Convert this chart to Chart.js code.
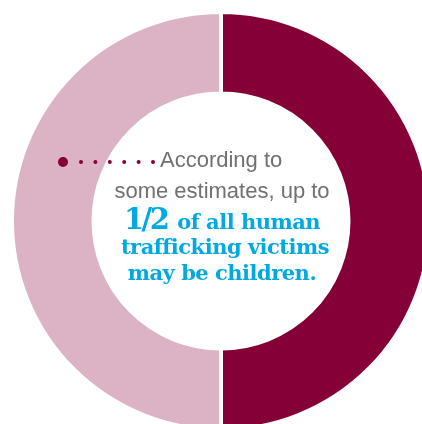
<!DOCTYPE html>
<html>
<head>
  <script src="https://cdn.jsdelivr.net/npm/chart.js"></script>
  <style>
    html, body { margin: 0; padding: 0; overflow: hidden; background: #fff; width: 422px; height: 424px; }
    #wrap { position: relative; width: 422px; height: 424px; overflow: hidden; }
    #donut { position: absolute; left: 0; top: 0; }
    .line { position: absolute; left: 72px; width: 300px; text-align: center; white-space: nowrap; }
    .gray { font-family: "Liberation Sans", Arial, sans-serif; font-size: 22px; line-height: 30px; color: #707072; }
    .blue { font-family: "DejaVu Serif", serif; font-weight: bold; font-size: 21px; line-height: 25px; color: #00a9e0; letter-spacing: -0.5px; }
    .big { font-size: 29px; letter-spacing: -2.5px; margin-right: 3px; }
  </style>
</head>
<body>
  <div id="wrap">
    <canvas id="donut" width="442" height="442"></canvas>
    <div class="line gray" style="top:145px; left:160px; width:auto; text-align:left;">According to</div>
    <div class="line gray" style="top:176px;">some estimates, up to</div>
    <div class="line blue" style="top:207px;"><span class="big">1/2</span> of all human</div>
    <div class="line blue" style="top:234px; left:75px;">trafficking victims</div>
    <div class="line blue" style="top:260px;">may be children.</div>
  </div>

  <script>
    const categories = ['Children', 'Adults'];
    const shares = [50, 50];
    const colors = ['#850036', '#dbb3c4'];

    // dotted pointer from the ring towards the text
    const pointerDots = {
      id: 'pointerDots',
      afterDraw(chart) {
        const c = chart.ctx;
        c.save();
        c.fillStyle = '#850036';
        c.beginPath();
        c.arc(63, 162, 5, 0, Math.PI * 2);
        c.fill();
        for (let i = 0; i < 6; i++) {
          c.beginPath();
          c.arc(81 + i * 14.4, 162, 2, 0, Math.PI * 2);
          c.fill();
        }
        c.restore();
      }
    };

    const ctx = document.getElementById('donut').getContext('2d');
    const donut = new Chart(ctx, {
      type: 'doughnut',
      data: {
        labels: categories,
        datasets: [{
          data: shares,
          backgroundColor: colors,
          borderColor: '#ffffff',
          borderWidth: 4,
          hoverOffset: 0
        }]
      },
      options: {
        responsive: false,
        animation: false,
        cutout: '61%',
        layout: { padding: 10 },
        plugins: {
          legend: { display: false },
          tooltip: { enabled: false }
        }
      },
      plugins: [pointerDots]
    });
  </script>
</body>
</html>
